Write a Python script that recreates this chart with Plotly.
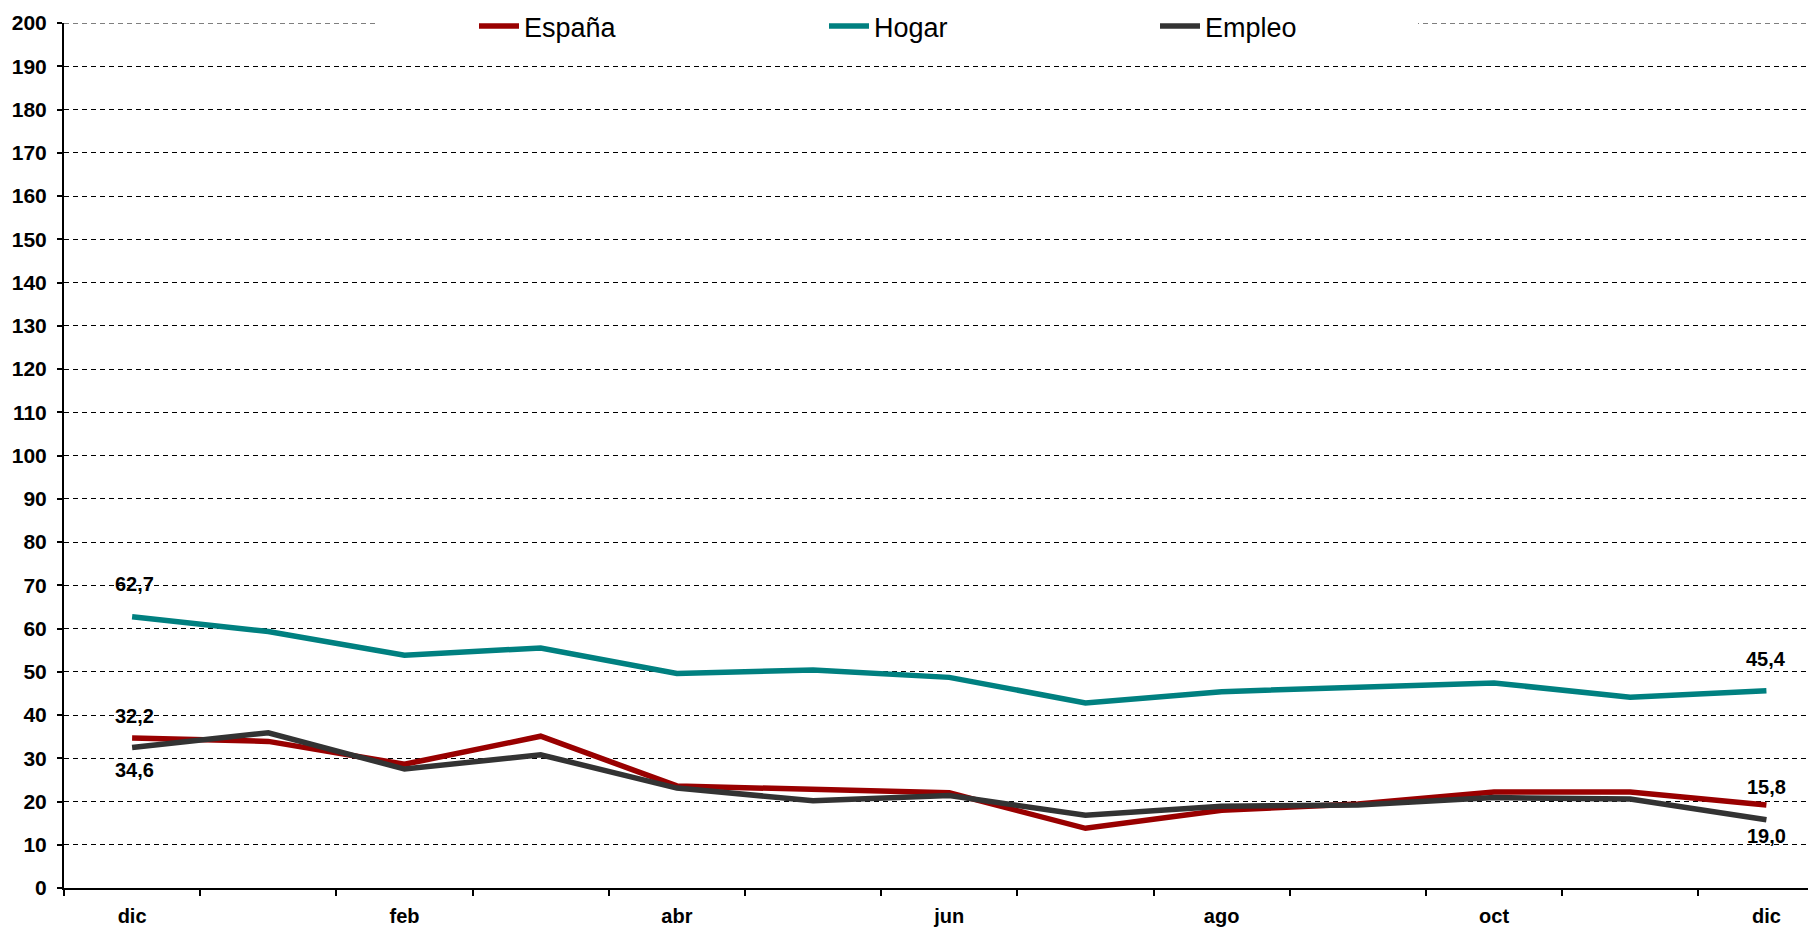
import plotly.graph_objects as go

months = ["dic", "ene", "feb", "mar", "abr", "may", "jun", "jul", "ago", "sep", "oct", "nov", "dic"]
espana = [34.7, 33.9, 28.6, 35.1, 23.6, 22.8, 22.0, 13.8, 18.0, 19.4, 22.2, 22.2, 19.2]
hogar = [62.7, 59.3, 53.8, 55.5, 49.6, 50.4, 48.7, 42.8, 45.4, 46.5, 47.4, 44.1, 45.6]
empleo = [32.5, 35.9, 27.5, 30.8, 23.1, 20.2, 21.4, 16.8, 18.9, 19.2, 20.9, 20.6, 15.8]

series_names = ["España", "Hogar", "Empleo"]
series_colors = ["#990000", "#008080", "#333333"]

# data-label texts as printed on the chart (start, end)
start_labels = {"Hogar": "62,7", "Empleo": "32,2", "España": "34,6"}
end_labels = {"Hogar": "45,4", "España": "15,8", "Empleo": "19,0"}

x = list(range(len(months)))
data = {"España": espana, "Hogar": hogar, "Empleo": empleo}
legend_widths = {"España": 295, "Hogar": 276, "Empleo": 150}

FONT = "Liberation Sans, Arial"
# page has an 8px body margin: figure is sized/offset to fill the 1816x929 window
W, H = 1808, 921
ML, MT, MB = 56, 15, 41
PW = W - ML

fig = go.Figure()
for name, color in zip(series_names, series_colors):
    fig.add_trace(go.Scatter(x=x, y=data[name], mode="lines", name=name,
                             line=dict(color=color, width=5.5), cliponaxis=False,
                             legendwidth=legend_widths[name]))

lab_font = dict(family=FONT, size=20, color="black", weight="bold")
start_shift = {"Hogar": 33, "Empleo": 31, "España": -32}
end_shift = {"Hogar": 32, "España": 18, "Empleo": -16}
for name in series_names:
    fig.add_annotation(x=x[0], y=data[name][0], text=start_labels[name], showarrow=False,
                       yshift=start_shift[name], xshift=2, font=lab_font)
    fig.add_annotation(x=x[-1], y=data[name][-1], text=end_labels[name], showarrow=False,
                       yshift=end_shift[name], font=lab_font)

# top gridline (at range edge) and white box behind legend interrupting it
fig.add_shape(type="line", xref="paper", yref="y", x0=0, x1=1, y0=200, y1=200,
              line=dict(color="black", width=1, dash="5px,4px"), layer="below")
fig.add_shape(type="rect", xref="paper", yref="paper",
              x0=(376 - 64) / PW, x1=(1418 - 64) / PW, y0=0.985, y1=1.02,
              fillcolor="white", line=dict(width=0), layer="above")

fig.update_layout(
    width=W, height=H,
    margin=dict(l=ML, r=0, t=MT, b=MB, autoexpand=False),
    paper_bgcolor="white", plot_bgcolor="white",
    showlegend=True,
    legend=dict(orientation="h", x=(474 - 64) / PW, xanchor="left", y=0.996, yanchor="middle",
                bgcolor="rgba(0,0,0,0)", font=dict(family=FONT, size=27, color="black"),
                itemwidth=40),
    xaxis=dict(range=[-0.5, 12.364], tickmode="array", tickvals=x[::2], ticktext=months[::2],
               ticks="", showgrid=False, zeroline=False, showline=True, linecolor="black", linewidth=2,
               tickfont=dict(family=FONT, size=20, color="black", weight="bold"),
               ticklabelstandoff=9,
               minor=dict(tickmode="linear", tick0=-0.5, dtick=1, ticks="outside", ticklen=6,
                          tickcolor="black", tickwidth=2, showgrid=False)),
    yaxis=dict(range=[0, 200], tickmode="linear", tick0=0, dtick=10, ticks="outside", ticklen=5,
               tickcolor="black", tickwidth=2, showline=True, linecolor="black", linewidth=2,
               showgrid=True, gridcolor="black", gridwidth=1, griddash="5px,4px", zeroline=False,
               tickfont=dict(family=FONT, size=21, color="black", weight="bold"),
               ticklabelstandoff=6),
)

fig.write_html("out.html")
